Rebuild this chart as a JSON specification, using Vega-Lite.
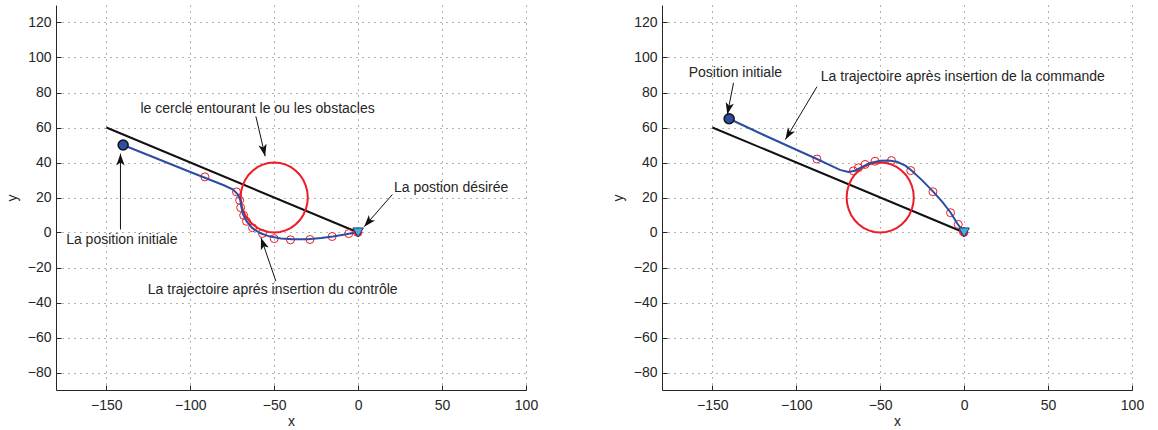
{
  "$schema": "https://vega.github.io/schema/vega-lite/v6.json",
  "background": "white",
  "padding": {"left": 5, "top": 5, "right": 0, "bottom": 0},
  "spacing": 73,
  "config": {
    "view": {"stroke": null},
    "font": "Liberation Sans",
    "axis": {
      "domainColor": "#262626",
      "domainWidth": 1,
      "tickColor": "#262626",
      "tickSize": -5,
      "labelFont": "Liberation Sans",
      "labelFontSize": 14,
      "labelColor": "#262626",
      "labelFlush": false,
      "titleFont": "Liberation Sans",
      "titleFontSize": 14,
      "titleFontWeight": "normal",
      "titleColor": "#262626",
      "grid": true,
      "gridColor": "#666666",
      "gridDash": [1, 5],
      "gridWidth": 1,
      "gridOpacity": 1
    },
    "axisX": {"labelPadding": 13, "titlePadding": 2},
    "axisY": {"labelPadding": 10, "titlePadding": 8},
    "text": {"font": "Liberation Sans", "fontSize": 14, "color": "#262626"}
  },
  "datasets": {
    "circle": [
      {"i": 0, "x": -30, "y": 20}, {"i": 1, "x": -30.3, "y": 23.47}, {"i": 2, "x": -31.21, "y": 26.84},
      {"i": 3, "x": -32.68, "y": 30}, {"i": 4, "x": -34.68, "y": 32.86}, {"i": 5, "x": -37.14, "y": 35.32},
      {"i": 6, "x": -40, "y": 37.32}, {"i": 7, "x": -43.16, "y": 38.79}, {"i": 8, "x": -46.53, "y": 39.7},
      {"i": 9, "x": -50, "y": 40}, {"i": 10, "x": -53.47, "y": 39.7}, {"i": 11, "x": -56.84, "y": 38.79},
      {"i": 12, "x": -60, "y": 37.32}, {"i": 13, "x": -62.86, "y": 35.32}, {"i": 14, "x": -65.32, "y": 32.86},
      {"i": 15, "x": -67.32, "y": 30}, {"i": 16, "x": -68.79, "y": 26.84}, {"i": 17, "x": -69.7, "y": 23.47},
      {"i": 18, "x": -70, "y": 20}, {"i": 19, "x": -69.7, "y": 16.53}, {"i": 20, "x": -68.79, "y": 13.16},
      {"i": 21, "x": -67.32, "y": 10}, {"i": 22, "x": -65.32, "y": 7.14}, {"i": 23, "x": -62.86, "y": 4.68},
      {"i": 24, "x": -60, "y": 2.68}, {"i": 25, "x": -56.84, "y": 1.21}, {"i": 26, "x": -53.47, "y": 0.3},
      {"i": 27, "x": -50, "y": 0}, {"i": 28, "x": -46.53, "y": 0.3}, {"i": 29, "x": -43.16, "y": 1.21},
      {"i": 30, "x": -40, "y": 2.68}, {"i": 31, "x": -37.14, "y": 4.68}, {"i": 32, "x": -34.68, "y": 7.14},
      {"i": 33, "x": -32.68, "y": 10}, {"i": 34, "x": -31.21, "y": 13.16}, {"i": 35, "x": -30.3, "y": 16.53},
      {"i": 36, "x": -30, "y": 20}
    ],
    "refline": [{"i": 0, "x": -150, "y": 60}, {"i": 1, "x": 0, "y": 0}],
    "goal": [{"x": 0, "y": 0}],
    "leftStart": [{"x": -140, "y": 50}],
    "rightStart": [{"x": -140, "y": 65}],
    "leftTraj": [
      {"i": 0, "x": -140, "y": 50}, {"i": 1, "x": -120, "y": 42.3}, {"i": 2, "x": -100, "y": 34.6},
      {"i": 3, "x": -91.3, "y": 31.3}, {"i": 4, "x": -80, "y": 27}, {"i": 5, "x": -74.5, "y": 24.5},
      {"i": 6, "x": -71.5, "y": 21.5}, {"i": 7, "x": -70.2, "y": 18.5}, {"i": 8, "x": -69.6, "y": 14.7},
      {"i": 9, "x": -68.6, "y": 10.5}, {"i": 10, "x": -66.5, "y": 6.5}, {"i": 11, "x": -63, "y": 2.5},
      {"i": 12, "x": -58.5, "y": -0.3}, {"i": 13, "x": -53, "y": -2.2}, {"i": 14, "x": -46, "y": -3.4},
      {"i": 15, "x": -39, "y": -3.8}, {"i": 16, "x": -30, "y": -3.8}, {"i": 17, "x": -22, "y": -3.2},
      {"i": 18, "x": -15, "y": -2.3}, {"i": 19, "x": -8, "y": -1.2}, {"i": 20, "x": -3, "y": -0.3},
      {"i": 21, "x": 0, "y": 0}
    ],
    "leftMarks": [
      {"x": -91.3, "y": 31.8}, {"x": -72.5, "y": 23.2}, {"x": -70.6, "y": 18.4}, {"x": -70, "y": 14.2},
      {"x": -68.2, "y": 9.8}, {"x": -66.5, "y": 6.4}, {"x": -62.9, "y": 2.7}, {"x": -57, "y": -0.6},
      {"x": -50, "y": -3.5}, {"x": -40.3, "y": -4.2}, {"x": -28.7, "y": -4}, {"x": -15.5, "y": -2.3},
      {"x": -5.6, "y": -0.6}, {"x": -0.5, "y": 0.2}
    ],
    "rightTraj": [
      {"i": 0, "x": -140, "y": 65}, {"i": 1, "x": -120, "y": 56}, {"i": 2, "x": -100, "y": 47.3},
      {"i": 3, "x": -87.7, "y": 42}, {"i": 4, "x": -80, "y": 38.5}, {"i": 5, "x": -74, "y": 35.8},
      {"i": 6, "x": -69, "y": 34.6}, {"i": 7, "x": -65, "y": 35.3}, {"i": 8, "x": -61, "y": 37.4},
      {"i": 9, "x": -56, "y": 39.8}, {"i": 10, "x": -50, "y": 41}, {"i": 11, "x": -45, "y": 41.2},
      {"i": 12, "x": -40, "y": 40.4}, {"i": 13, "x": -35, "y": 38.2}, {"i": 14, "x": -31, "y": 35.2},
      {"i": 15, "x": -25, "y": 29.8}, {"i": 16, "x": -18.6, "y": 23.5}, {"i": 17, "x": -13, "y": 17.5},
      {"i": 18, "x": -8, "y": 11.3}, {"i": 19, "x": -4, "y": 5}, {"i": 20, "x": 0, "y": 0}
    ],
    "rightMarks": [
      {"x": -87.7, "y": 42}, {"x": -66, "y": 35.2}, {"x": -63, "y": 37}, {"x": -59, "y": 38.9},
      {"x": -53.1, "y": 40.7}, {"x": -43.3, "y": 41.1}, {"x": -31.8, "y": 35.4}, {"x": -18.6, "y": 23.3},
      {"x": -8.1, "y": 11.3}, {"x": -3.5, "y": 4.6}, {"x": -0.5, "y": 0.5}
    ],
    "leftText": [
      {"x": -59.9, "y": 70.3, "label": "le cercle entourant le ou les obstacles"},
      {"x": -140.8, "y": -4, "label": "La position initiale"},
      {"x": 55.4, "y": 25.5, "label": "La postion désirée"},
      {"x": -50.9, "y": -32.6, "label": "La trajectoire aprés insertion du contrôle"}
    ],
    "rightText": [
      {"x": -136.3, "y": 91.3, "label": "Position initiale"},
      {"x": -0.8, "y": 88.8, "label": "La trajectoire après insertion de la commande"}
    ],
    "leftArrows": [
      {"tx": -60.9, "ty": 66.3, "hx": -55.4, "hy": 43.6, "angle": 167},
      {"tx": -141.6, "ty": 1.7, "hx": -141.6, "hy": 45, "angle": 0},
      {"tx": 20.4, "ty": 21.7, "hx": 3.6, "hy": 3.3, "angle": 221},
      {"tx": -49, "ty": -27.8, "hx": -57.9, "hy": -3, "angle": 341}
    ],
    "rightArrows": [
      {"tx": -137.4, "ty": 85.5, "hx": -141.1, "hy": 67.4, "angle": 192},
      {"tx": -87.7, "ty": 83.3, "hx": -106.5, "hy": 53.1, "angle": 211}
    ]
  },
  "hconcat": [
    {
      "width": 470,
      "height": 385,
      "encoding": {
        "x": {"field": "x", "type": "quantitative", "scale": {"domain": [-180, 100], "nice": false, "zero": false},
              "axis": {"title": "x", "values": [-150, -100, -50, 0, 50, 100]}},
        "y": {"field": "y", "type": "quantitative", "scale": {"domain": [-90, 130], "nice": false, "zero": false},
              "axis": {"title": "y", "values": [-80, -60, -40, -20, 0, 20, 40, 60, 80, 100, 120]}}
      },
      "layer": [
        {"data": {"name": "refline"}, "mark": {"type": "line", "color": "#111111", "strokeWidth": 2}, "encoding": {"order": {"field": "i"}}},
        {"data": {"name": "circle"}, "mark": {"type": "line", "color": "#ee1c24", "strokeWidth": 2}, "encoding": {"order": {"field": "i"}}},
        {"data": {"name": "leftMarks"}, "mark": {"type": "point", "shape": "circle", "size": 64, "filled": false, "color": "#ee1c24", "strokeWidth": 1, "opacity": 1}, "encoding": {}},
        {"data": {"name": "leftTraj"}, "mark": {"type": "line", "color": "#2b4ea2", "strokeWidth": 2}, "encoding": {"order": {"field": "i"}}},
        {"data": {"name": "goal"}, "mark": {"type": "point", "shape": "circle", "size": 70, "filled": true, "color": "#ee1c24", "opacity": 1}, "encoding": {}},
        {"data": {"name": "goal"}, "mark": {"type": "point", "shape": "triangle-down", "size": 110, "filled": true, "fill": "#45aee0", "stroke": "#1d3b70", "strokeWidth": 1, "opacity": 1}, "encoding": {}},
        {"data": {"name": "leftStart"}, "mark": {"type": "point", "shape": "circle", "size": 100, "filled": true, "fill": "#2b4ea2", "stroke": "#111111", "strokeWidth": 1.5, "opacity": 1}, "encoding": {}},
        {"data": {"name": "leftArrows"}, "mark": {"type": "rule", "color": "#111111", "strokeWidth": 1},
         "encoding": {"x": {"field": "tx", "type": "quantitative"}, "y": {"field": "ty", "type": "quantitative"}, "x2": {"field": "hx"}, "y2": {"field": "hy"}}},
        {"data": {"name": "leftArrows"}, "mark": {"type": "point", "shape": "M0,0 L0.7,2 L0,1.5 L-0.7,2 Z", "size": 140, "filled": true, "color": "#111111", "opacity": 1},
         "encoding": {"x": {"field": "hx", "type": "quantitative"}, "y": {"field": "hy", "type": "quantitative"}, "angle": {"field": "angle", "type": "quantitative", "scale": null}}},
        {"data": {"name": "leftText"}, "mark": {"type": "text", "align": "center", "baseline": "middle"}, "encoding": {"text": {"field": "label"}}}
      ]
    },
    {
      "width": 470,
      "height": 385,
      "encoding": {
        "x": {"field": "x", "type": "quantitative", "scale": {"domain": [-180, 100], "nice": false, "zero": false},
              "axis": {"title": "x", "values": [-150, -100, -50, 0, 50, 100]}},
        "y": {"field": "y", "type": "quantitative", "scale": {"domain": [-90, 130], "nice": false, "zero": false},
              "axis": {"title": "y", "values": [-80, -60, -40, -20, 0, 20, 40, 60, 80, 100, 120]}}
      },
      "layer": [
        {"data": {"name": "refline"}, "mark": {"type": "line", "color": "#111111", "strokeWidth": 2}, "encoding": {"order": {"field": "i"}}},
        {"data": {"name": "circle"}, "mark": {"type": "line", "color": "#ee1c24", "strokeWidth": 2}, "encoding": {"order": {"field": "i"}}},
        {"data": {"name": "rightMarks"}, "mark": {"type": "point", "shape": "circle", "size": 64, "filled": false, "color": "#ee1c24", "strokeWidth": 1, "opacity": 1}, "encoding": {}},
        {"data": {"name": "rightTraj"}, "mark": {"type": "line", "color": "#2b4ea2", "strokeWidth": 2}, "encoding": {"order": {"field": "i"}}},
        {"data": {"name": "goal"}, "mark": {"type": "point", "shape": "circle", "size": 70, "filled": true, "color": "#ee1c24", "opacity": 1}, "encoding": {}},
        {"data": {"name": "goal"}, "mark": {"type": "point", "shape": "triangle-down", "size": 110, "filled": true, "fill": "#45aee0", "stroke": "#1d3b70", "strokeWidth": 1, "opacity": 1}, "encoding": {}},
        {"data": {"name": "rightStart"}, "mark": {"type": "point", "shape": "circle", "size": 100, "filled": true, "fill": "#2b4ea2", "stroke": "#111111", "strokeWidth": 1.5, "opacity": 1}, "encoding": {}},
        {"data": {"name": "rightArrows"}, "mark": {"type": "rule", "color": "#111111", "strokeWidth": 1},
         "encoding": {"x": {"field": "tx", "type": "quantitative"}, "y": {"field": "ty", "type": "quantitative"}, "x2": {"field": "hx"}, "y2": {"field": "hy"}}},
        {"data": {"name": "rightArrows"}, "mark": {"type": "point", "shape": "M0,0 L0.7,2 L0,1.5 L-0.7,2 Z", "size": 140, "filled": true, "color": "#111111", "opacity": 1},
         "encoding": {"x": {"field": "hx", "type": "quantitative"}, "y": {"field": "hy", "type": "quantitative"}, "angle": {"field": "angle", "type": "quantitative", "scale": null}}},
        {"data": {"name": "rightText"}, "mark": {"type": "text", "align": "center", "baseline": "middle"}, "encoding": {"text": {"field": "label"}}}
      ]
    }
  ]
}
